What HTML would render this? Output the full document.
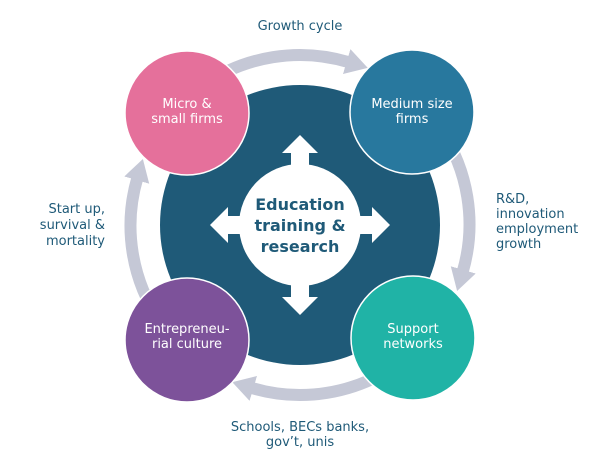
<!DOCTYPE html>
<html><head><style>
html,body{margin:0;padding:0;background:#fff;}
svg{display:block;}
text{font-family:"DejaVu Sans","Liberation Sans",sans-serif;}
</style></head><body>
<svg width="600" height="470" viewBox="0 0 600 470" xmlns="http://www.w3.org/2000/svg">
<defs>
<marker id="ah" markerUnits="userSpaceOnUse" markerWidth="30" markerHeight="30" refX="2" refY="15" orient="auto">
<path d="M0,2 L22,15 L0,28 Z" fill="#c5c8d6"/>
</marker>
</defs>
<g fill="none" stroke="#c5c8d6" stroke-width="12" marker-end="url(#ah)">
<path d="M202.5,85.7 A170,170 0 0 1 348.6,62.1"/>
<path d="M439.3,127.5 A170,170 0 0 1 462.7,271.8"/>
<path d="M397.5,364.3 A170,170 0 0 1 251.4,387.9"/>
<path d="M160.7,322.5 A170,170 0 0 1 137.3,178.2"/>
</g>
<circle cx="300" cy="225" r="140" fill="#1f5a78"/>
<circle cx="300" cy="225" r="61" fill="#fff"/>
<g fill="#fff">
<path d="M291,172 L291,153 L282,153 L300,135 L318,153 L309,153 L309,172 Z"/>
<path d="M291,278 L291,297 L282,297 L300,315 L318,297 L309,297 L309,278 Z"/>
<path d="M247,216 L228,216 L228,207 L210,225 L228,243 L228,234 L247,234 Z"/>
<path d="M353,216 L372,216 L372,207 L390,225 L372,243 L372,234 L353,234 Z"/>
</g>
<g stroke="#fff" stroke-width="1.5">
<circle cx="187" cy="113" r="62" fill="#e5709b"/>
<circle cx="412" cy="112" r="62" fill="#28789e"/>
<circle cx="187" cy="340" r="62" fill="#7d529a"/>
<circle cx="413" cy="338" r="62" fill="#20b3a6"/>
</g>
<g fill="#fff" font-size="13" text-anchor="middle">
<text x="187" y="108">Micro &amp;</text>
<text x="187" y="123">small firms</text>
<text x="412" y="108">Medium size</text>
<text x="412" y="123">firms</text>
<text x="187" y="333">Entrepreneu-</text>
<text x="187" y="348">rial culture</text>
<text x="413" y="333">Support</text>
<text x="413" y="348">networks</text>
</g>
<g fill="#1f5a78" font-size="16" font-weight="bold" text-anchor="middle">
<text x="300" y="210">Education</text>
<text x="300" y="231">training &amp;</text>
<text x="300" y="252">research</text>
</g>
<g fill="#1f5a78" font-size="13">
<text x="300" y="30" text-anchor="middle">Growth cycle</text>
<text x="496" y="203">R&amp;D,</text>
<text x="496" y="218">innovation</text>
<text x="496" y="233">employment</text>
<text x="496" y="248">growth</text>
<text x="105" y="213" text-anchor="end">Start up,</text>
<text x="105" y="229" text-anchor="end">survival &amp;</text>
<text x="105" y="245" text-anchor="end">mortality</text>
<text x="300" y="431" text-anchor="middle">Schools, BECs banks,</text>
<text x="300" y="446" text-anchor="middle">gov’t, unis</text>
</g>
</svg>
</body></html>
